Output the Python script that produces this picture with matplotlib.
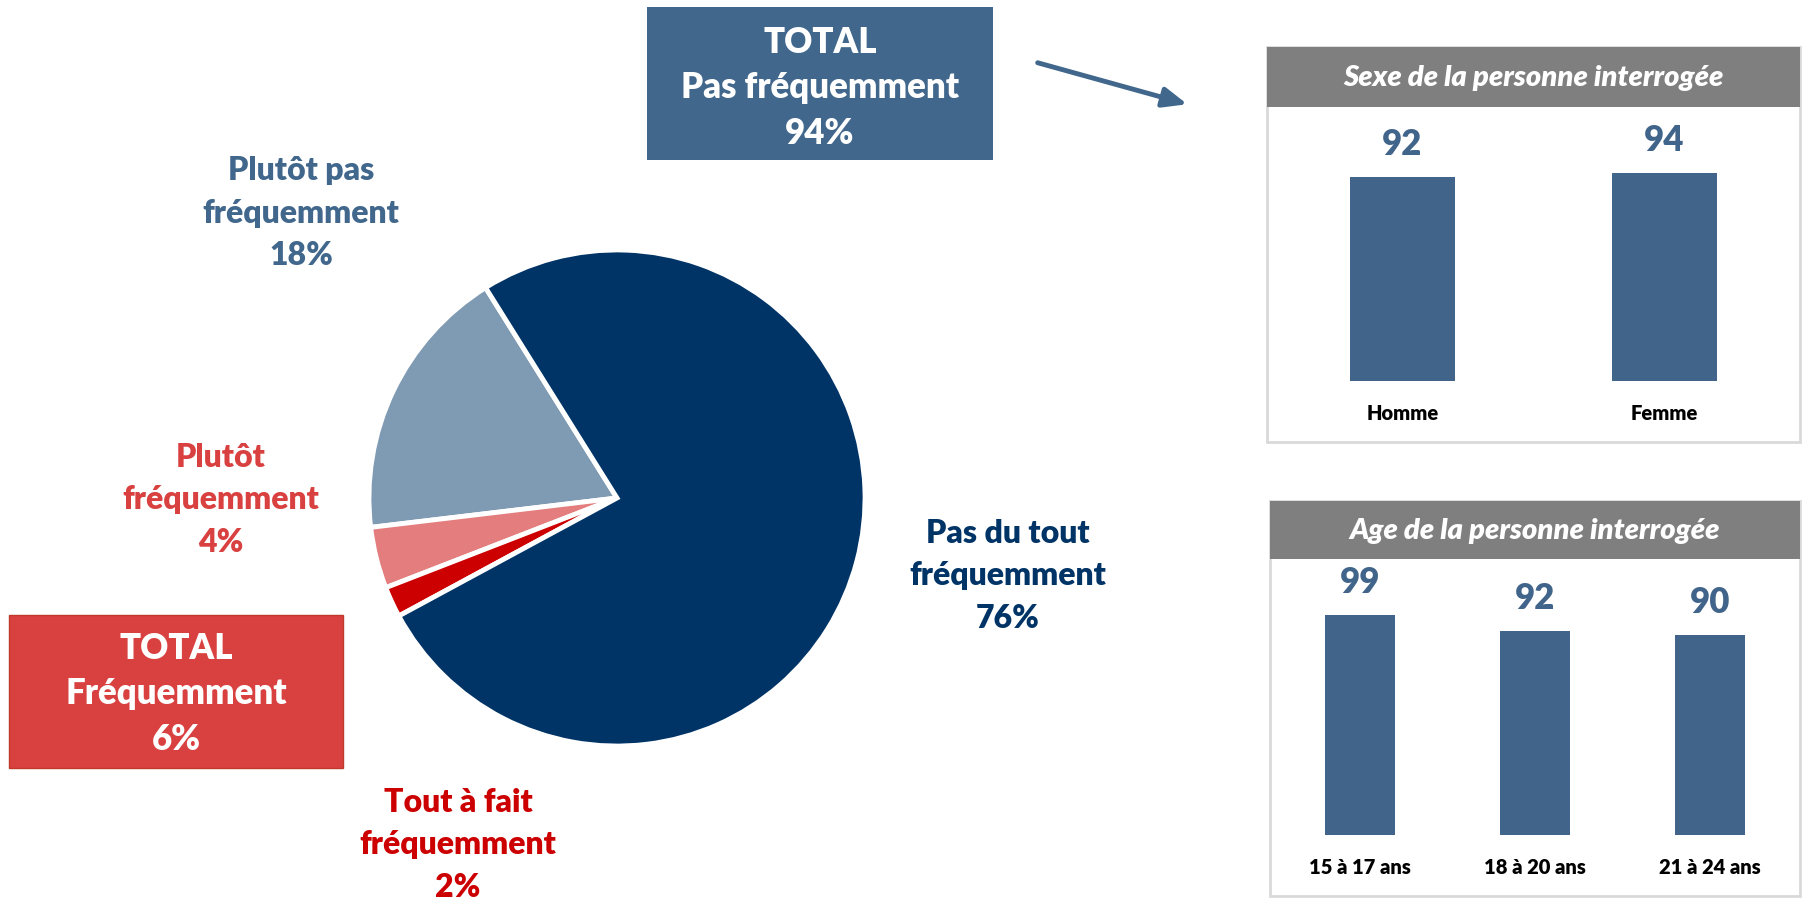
import matplotlib
matplotlib.use("Agg")
import matplotlib.pyplot as plt
from matplotlib.patches import Rectangle, FancyArrowPatch

plt.rcParams['font.family'] = ['Lato', 'DejaVu Sans']
plt.rcParams['font.weight'] = 'heavy'

# pie data (counter-clockwise from the top-left boundary)
pie_labels = ["Plutôt pas\nfréquemment", "Plutôt\nfréquemment",
              "Tout à fait\nfréquemment", "Pas du tout\nfréquemment"]
pie_values = [18, 4, 2, 76]
pie_colors = ["#7F9AB3", "#E47E7E", "#CC0000", "#003366"]
text_colors = ["#41678C", "#D94040", "#CC0000", "#003366"]

sexe_cats = ["Homme", "Femme"]
sexe_vals = [92, 94]
age_cats = ["15 à 17 ans", "18 à 20 ans", "21 à 24 ans"]
age_vals = [99, 92, 90]

W, H = 1804, 904
fig = plt.figure(figsize=(W / 100, H / 100), dpi=100)


def fx(x):
    return x / W


def fy(y):
    return 1 - y / H


# ---- pie ----
cx, cy, r = 617, 499, 253
ax = fig.add_axes([fx(cx - r), fy(cy + r), 2 * r / W, 2 * r / H])
ax.pie(pie_values, colors=pie_colors, startangle=122, counterclock=True,
       wedgeprops=dict(edgecolor="white", linewidth=3.5))
ax.set_aspect("equal")
ax.set_xlim(-1.02, 1.02)
ax.set_ylim(-1.02, 1.02)
ax.axis("off")

label_pos = [(301, 213), (221, 500), (458, 845), (1008, 576)]
for lab, v, col, (x, y) in zip(pie_labels, pie_values, text_colors, label_pos):
    fig.text(fx(x), fy(y), f"{lab}\n{v}%", color=col, fontsize=23,
             ha="center", va="center", linespacing=1.55)

# ---- total boxes ----
tot_pas = pie_values[0] + pie_values[3]
tot_freq = pie_values[1] + pie_values[2]

fig.patches.append(Rectangle((fx(647), fy(161)), (993 - 647) / W, (161 - 8) / H,
                             transform=fig.transFigure, facecolor="#41678C",
                             edgecolor="none", zorder=-5))
fig.text(fx(820), fy(88), f"TOTAL\nPas fréquemment\n{tot_pas}%", color="white",
         fontsize=25, ha="center", va="center", linespacing=1.45)

fig.patches.append(Rectangle((fx(9), fy(769)), (343 - 9) / W, (769 - 616) / H,
                             transform=fig.transFigure, facecolor="#D94141",
                             edgecolor="#C0392B", linewidth=1, zorder=-5))
fig.text(fx(176), fy(694), f"TOTAL\nFréquemment\n{tot_freq}%", color="white",
         fontsize=25, ha="center", va="center", linespacing=1.45)

# arrow
arr = FancyArrowPatch((fx(1035), fy(63)), (fx(1190), fy(106)),
                      transform=fig.transFigure, arrowstyle="-|>,head_length=12,head_width=5",
                      color="#41678C", linewidth=3.5, mutation_scale=1.2)
fig.patches.append(arr)


# ---- bar panels ----
def panel(x0, x1, y0, y1, hy, title):
    fig.patches.append(Rectangle((fx(x0), fy(y1)), (x1 - x0) / W, (y1 - y0) / H,
                                 transform=fig.transFigure, facecolor="white",
                                 edgecolor="#D9D9D9", linewidth=2, zorder=-5))
    fig.patches.append(Rectangle((fx(x0), fy(hy)), (x1 - x0) / W, (hy - y0) / H,
                                 transform=fig.transFigure, facecolor="#7F7F7F",
                                 edgecolor="none", zorder=-4))
    fig.text(fx((x0 + x1) / 2), fy((y0 + hy) / 2), title, color="white",
             fontsize=21, style="italic", ha="center", va="center")


def bars(cats, vals, x0, x1, base, pxu, spacing):
    n = len(cats)
    h = 100 * pxu
    a = fig.add_axes([fx(x0), fy(base), (x1 - x0) / W, h / H])
    a.patch.set_alpha(0)
    half = (x1 - x0) / spacing / 2
    mid = (n - 1) / 2
    a.bar(range(n), vals, width=0.4, color="#41658A")
    a.set_xlim(mid - half, mid + half)
    a.set_ylim(0, 100)
    a.axis("off")
    for i, (c, v) in enumerate(zip(cats, vals)):
        a.annotate(str(v), (i, v), xytext=(0, 24), textcoords="offset points",
                   ha="center", va="center", fontsize=25, color="#41658A")
        a.annotate(c, (i, 0), xytext=(0, -22.5), textcoords="offset points",
                   ha="center", va="center", fontsize=14.5, color="black")


panel(1267, 1800, 48, 443, 108, "Sexe de la personne interrogée")
bars(sexe_cats, sexe_vals, 1267, 1800, 382, 2.217, 262)

panel(1270, 1800, 502, 897, 560, "Age de la personne interrogée")
bars(age_cats, age_vals, 1270, 1800, 836, 2.222, 175)

fig.savefig("out.png", dpi=100, facecolor="white")
